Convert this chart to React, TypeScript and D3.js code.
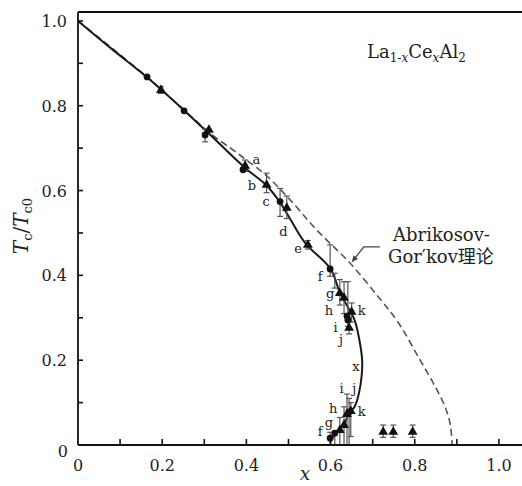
import React from 'react';
import * as d3 from 'd3';

const W = 522;
const H = 486;

const xTickVals = [0.1, 0.2, 0.3, 0.4, 0.5, 0.6, 0.7, 0.8, 0.9, 1.0];
const xLabelVals = [0, 0.2, 0.4, 0.6, 0.8, 1.0];
const xLabelText = ['0', '0.2', '0.4', '0.6', '0.8', '1.0'];
const yTickVals = [0.1, 0.2, 0.3, 0.4, 0.5, 0.6, 0.7, 0.8, 0.9, 1.0];
const yLabelVals = [0.2, 0.4, 0.6, 0.8, 1.0];
const yLabelText = ['0.2', '0.4', '0.6', '0.8', '1.0'];

// experimental fit (solid)
const solidX = [0, 0.08, 0.164, 0.252, 0.306, 0.395, 0.448, 0.48, 0.5, 0.54, 0.6, 0.622, 0.645, 0.657, 0.668, 0.675, 0.674, 0.667, 0.657, 0.646, 0.632, 0.615, 0.6];
const solidY = [1.0, 0.934, 0.867, 0.789, 0.739, 0.655, 0.612, 0.572, 0.54, 0.476, 0.415, 0.36, 0.318, 0.295, 0.25, 0.2, 0.165, 0.12, 0.09, 0.078, 0.05, 0.028, 0.015];

// Abrikosov-Gor'kov theory (dashed)
const dashX = [0, 0.164, 0.252, 0.32, 0.368, 0.4, 0.449, 0.504, 0.567, 0.646, 0.717, 0.76, 0.81, 0.85, 0.872, 0.884, 0.889];
const dashY = [1.0, 0.868, 0.79, 0.73, 0.696, 0.672, 0.634, 0.578, 0.507, 0.429, 0.345, 0.29, 0.205, 0.135, 0.09, 0.05, 0.0];

// data points
const markX = [0.164, 0.197, 0.252, 0.302, 0.311, 0.392, 0.397, 0.448, 0.48, 0.496, 0.546, 0.599, 0.61, 0.622, 0.632, 0.641, 0.65, 0.639, 0.641, 0.644,
  0.599, 0.61, 0.622, 0.632, 0.639, 0.644, 0.648, 0.725, 0.749, 0.795];
const markY = [0.868, 0.837, 0.788, 0.731, 0.743, 0.649, 0.658, 0.613, 0.574, 0.559, 0.472, 0.415, 0.39, 0.358, 0.347, 0.335, 0.314, 0.304, 0.295, 0.276,
  0.016, 0.028, 0.035, 0.047, 0.073, 0.078, 0.08, 0.031, 0.031, 0.031];
const markLo = [0.868, 0.829, 0.788, 0.715, 0.743, 0.649, 0.645, 0.595, 0.539, 0.534, 0.462, 0.398, 0.37, 0.33, 0.31, 0.3, 0.29, 0.304, 0.28, 0.262,
  0.0, 0.0, 0.0, 0.0, 0.0, 0.0, 0.02, 0.018, 0.018, 0.018];
const markHi = [0.868, 0.845, 0.788, 0.745, 0.743, 0.649, 0.672, 0.641, 0.605, 0.587, 0.482, 0.472, 0.405, 0.39, 0.385, 0.385, 0.335, 0.304, 0.31, 0.29,
  0.03, 0.028, 0.065, 0.09, 0.12, 0.11, 0.1, 0.047, 0.047, 0.047];
const markShape = ['c', 't', 'c', 'c', 't', 'c', 't', 't', 'c', 't', 't', 'c', 'n', 't', 't', 'n', 't', 'c', 'c', 't',
  'c', 'c', 't', 't', 't', 'c', 't', 't', 't', 't'];

const letterText = ['a', 'b', 'c', 'd', 'e', 'f', 'g', 'h', 'i', 'j', 'k', 'x', 'i', 'j', 'h', 'k', 'g', 'f'];
const letterX = [0.424, 0.413, 0.447, 0.488, 0.523, 0.575, 0.599, 0.596, 0.612, 0.625, 0.674, 0.66, 0.626, 0.656, 0.606, 0.674, 0.596, 0.575];
const letterY = [0.674, 0.613, 0.574, 0.503, 0.464, 0.397, 0.358, 0.318, 0.278, 0.248, 0.318, 0.186, 0.134, 0.134, 0.086, 0.08, 0.052, 0.031];

const calloutX = [0.717, 0.679, 0.651];
const calloutY = [0.467, 0.467, 0.432];

const FONT = "'DejaVu Serif', 'Noto Sans CJK SC', serif";

export default function App() {
  const x = d3.scaleLinear().domain([0, 1.05]).range([78, 520]);
  const y = d3.scaleLinear().domain([0, 1.021]).range([445, 12]);

  const solidPts: [number, number][] = solidX.map((v, i) => [x(v), y(solidY[i])]);
  const dashPts: [number, number][] = dashX.map((v, i) => [x(v), y(dashY[i])]);
  const line = d3.line().curve(d3.curveCatmullRom.alpha(0.5));
  const solidPath = line(solidPts) || '';
  const dashPath = line(dashPts) || '';
  const calloutPath = d3.line()(calloutX.map((v, i) => [x(v), y(calloutY[i])] as [number, number])) || '';

  const tri = d3.symbol().type(d3.symbolTriangle).size(42)() || '';

  const ax1 = x(calloutX[1]), ay1 = y(calloutY[1]);
  const ax2 = x(calloutX[2]), ay2 = y(calloutY[2]);
  const ang = (Math.atan2(ay2 - ay1, ax2 - ax1) * 180) / Math.PI;

  return (
    <svg width={W} height={H} style={{ position: 'absolute', left: 0, top: 0, background: '#fff' }}
      fontFamily={FONT}>
      <rect x={0} y={0} width={W} height={H} fill="#fff" />
      <path d={dashPath} fill="none" stroke="#555" strokeWidth={1.6} strokeDasharray="7,4" />
      <path d={solidPath} fill="none" stroke="#1a1a1a" strokeWidth={2} />

      {markX.map((v, i) => (
        markHi[i] - markLo[i] > 0.004 ? (
          <g key={'e' + i} stroke="#555" strokeWidth={1.2}>
            <line x1={x(v)} x2={x(v)} y1={y(markLo[i])} y2={y(markHi[i])} />
            <line x1={x(v) - 3} x2={x(v) + 3} y1={y(markLo[i])} y2={y(markLo[i])} />
            <line x1={x(v) - 3} x2={x(v) + 3} y1={y(markHi[i])} y2={y(markHi[i])} />
          </g>
        ) : null
      ))}
      {markX.map((v, i) => {
        const s = markShape[i];
        if (s === 'c') return <circle key={'m' + i} cx={x(v)} cy={y(markY[i])} r={3.4} fill="#111" />;
        if (s === 't') return <path key={'m' + i} d={tri} transform={`translate(${x(v)},${y(markY[i])})`} fill="#111" />;
        return null;
      })}

      <path d={calloutPath} fill="none" stroke="#444" strokeWidth={1.3} />
      <path d="M0,0 L-6,-3 L-6,3 Z" fill="#444" transform={`translate(${ax2},${ay2}) rotate(${ang})`} />

      <line x1={78} x2={522} y1={12} y2={12} stroke="#111" strokeWidth={1.8} />
      <line x1={78} x2={78} y1={12} y2={445} stroke="#111" strokeWidth={1.8} />
      <line x1={78} x2={522} y1={445} y2={445} stroke="#111" strokeWidth={1.8} />
      {xTickVals.map((v) => (
        <line key={'xt' + v} x1={x(v)} x2={x(v)} y1={445} y2={439} stroke="#111" strokeWidth={1.6} />
      ))}
      {yTickVals.map((v) => (
        <line key={'yt' + v} x1={78} x2={83} y1={y(v)} y2={y(v)} stroke="#111" strokeWidth={1.6} />
      ))}
      {xLabelVals.map((v, i) => (
        <text key={'xl' + v} x={x(v)} y={471} fontSize={16} textAnchor="middle" fill="#222">{xLabelText[i]}</text>
      ))}
      {yLabelVals.map((v, i) => (
        <text key={'yl' + v} x={67} y={y(v) + 6} fontSize={16} textAnchor="end" fill="#222">{yLabelText[i]}</text>
      ))}
      <text x={68} y={457} fontSize={16} textAnchor="end" fill="#222">0</text>

      <text x={305} y={480} fontSize={18} fontStyle="italic" textAnchor="middle" fill="#222">x</text>
      <text transform="translate(28,226) rotate(-90)" fontSize={20} textAnchor="middle" fill="#222">
        <tspan fontStyle="italic">T</tspan>
        <tspan fontSize={13} dy={4}>c</tspan>
        <tspan dy={-4}>/</tspan>
        <tspan fontStyle="italic">T</tspan>
        <tspan fontSize={13} dy={4}>c0</tspan>
      </text>

      {letterText.map((t, i) => (
        <text key={'lt' + i} x={x(letterX[i])} y={y(letterY[i])} fontSize={13} textAnchor="middle"
          dominantBaseline="central" fill="#222">{t}</text>
      ))}

      <text x={367} y={58} fontSize={18} fill="#222">
        La<tspan fontSize={12} dy={4}>1-</tspan><tspan fontSize={12} fontStyle="italic">x</tspan>
        <tspan dy={-4}>Ce</tspan><tspan fontSize={12} dy={4} fontStyle="italic">x</tspan>
        <tspan dy={-4}>Al</tspan><tspan fontSize={12} dy={4}>2</tspan>
      </text>

      <text x={393} y={241} fontSize={18} fill="#222">Abrikosov-</text>
      <text x={388} y={263} fontSize={18} fill="#222">Gor′kov理论</text>
    </svg>
  );
}
